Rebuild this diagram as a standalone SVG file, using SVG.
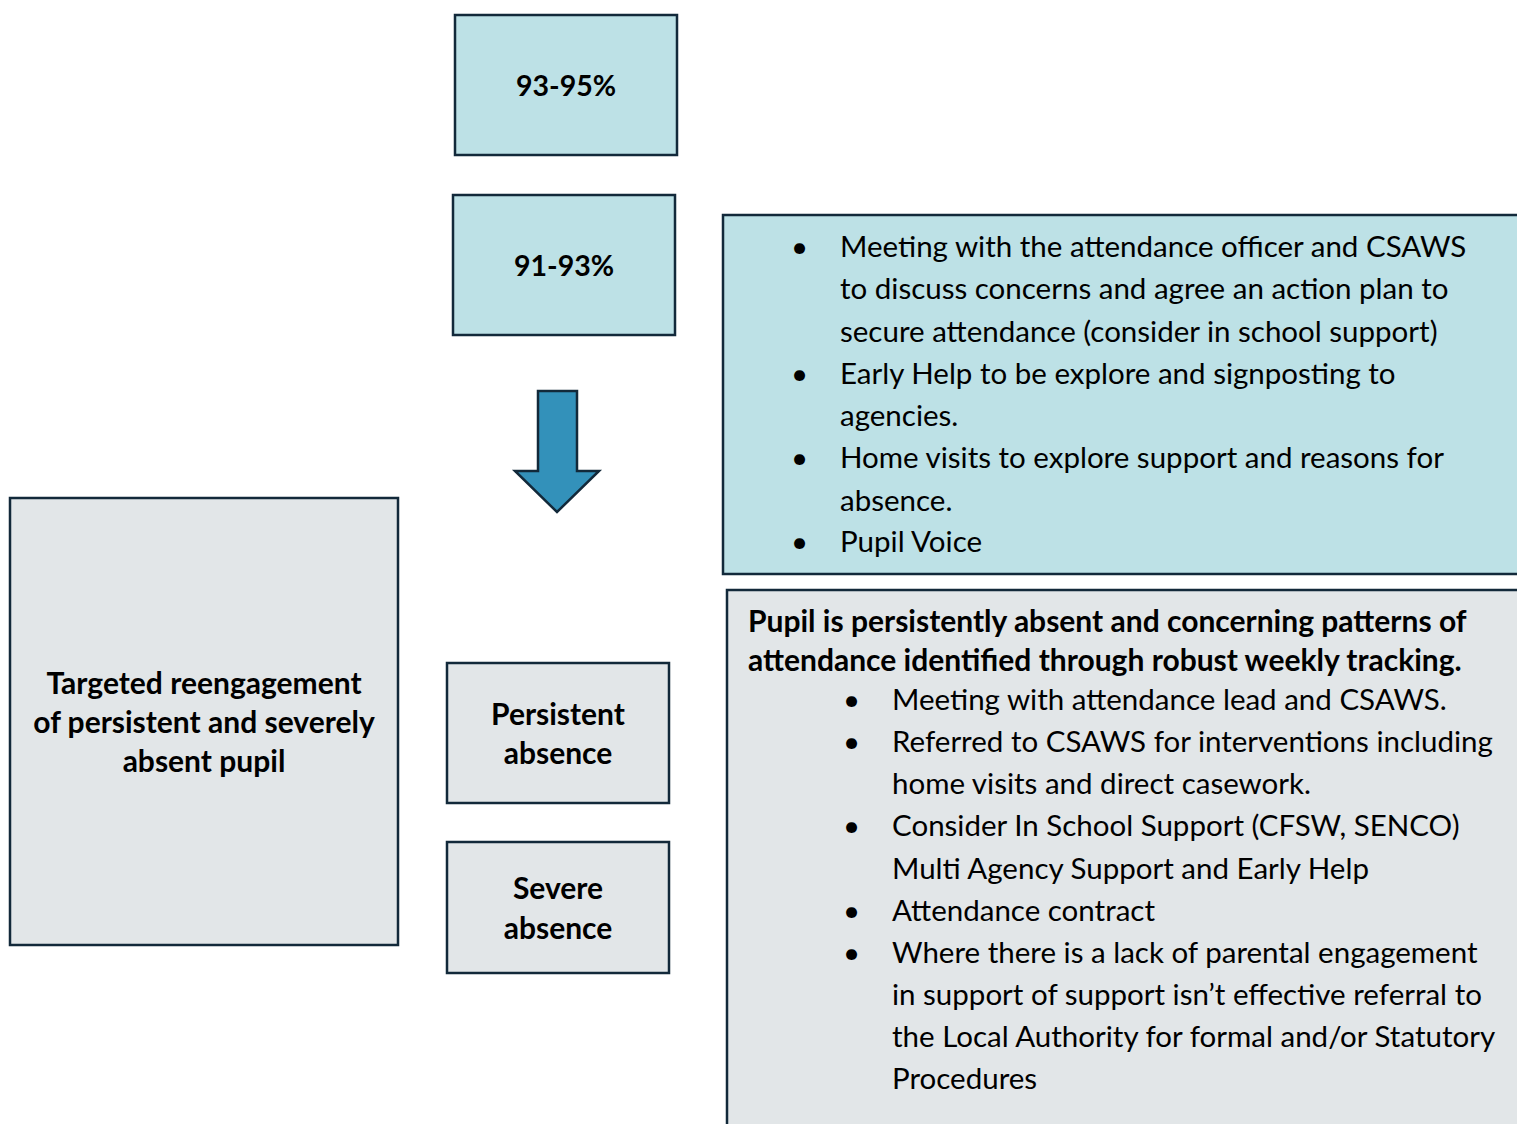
<svg xmlns="http://www.w3.org/2000/svg" width="1517" height="1124" viewBox="0 0 1517 1124">
<style>
.teal{fill:#BDE1E6;stroke:#12293A;stroke-width:2.5}
.grey{fill:#E2E6E8;stroke:#12293A;stroke-width:2.5}
text{font-family:Lato,"Open Sans","Liberation Sans",sans-serif;fill:#000}
.b{font-weight:bold;font-size:30px}
.p{font-weight:bold;font-size:28.5px}
.n{font-size:29.5px}
.c{text-anchor:middle}
</style>
<rect width="1517" height="1124" fill="#fff"/>
<g id="node-9395">
<rect class="teal" x="455" y="15" width="222" height="140"/>
<text class="p c" x="566" y="96">93-95%</text>
</g>
<g id="node-9193">
<rect class="teal" x="453" y="195" width="222" height="140"/>
<text class="p c" x="564" y="276">91-93%</text>
</g>
<g id="connectors">
<path d="M538,391 H577 V471 H599 L557,512 L515,471 H538 Z" fill="#3391BA" stroke="#12293A" stroke-width="2.5" stroke-linejoin="miter"/>
</g>
<g id="node-targeted">
<rect class="grey" x="10" y="498" width="388" height="447"/>
<text class="b c" x="204" y="694">Targeted reengagement</text>
<text class="b c" x="204" y="733">of persistent and severely</text>
<text class="b c" x="204" y="772">absent pupil</text>
</g>
<g id="node-persistent">
<rect class="grey" x="447" y="663" width="222" height="140"/>
<text class="b c" x="558" y="725">Persistent</text>
<text class="b c" x="558" y="764">absence</text>
</g>
<g id="node-severe">
<rect class="grey" x="447" y="842" width="222" height="131"/>
<text class="b c" x="558" y="899">Severe</text>
<text class="b c" x="558" y="939">absence</text>
</g>
<g id="node-actions-teal">
<rect class="teal" x="723" y="215" width="810" height="359"/>
<g class="n">
<text x="791" y="257">•</text>
<text x="840" y="257">Meeting with the attendance officer and CSAWS</text>
<text x="840" y="299">to discuss concerns and agree an action plan to</text>
<text x="840" y="342">secure attendance (consider in school support)</text>
<text x="791" y="384">•</text>
<text x="840" y="384">Early Help to be explore and signposting to</text>
<text x="840" y="426">agencies.</text>
<text x="791" y="468">•</text>
<text x="840" y="468">Home visits to explore support and reasons for</text>
<text x="840" y="511">absence.</text>
<text x="791" y="552">•</text>
<text x="840" y="552">Pupil Voice</text>
</g>
</g>
<g id="node-actions-grey">
<rect class="grey" x="727" y="590" width="810" height="560"/>
<text class="b" x="748" y="632">Pupil is persistently absent and concerning patterns of</text>
<text class="b" x="748" y="671">attendance identified through robust weekly tracking.</text>
<g class="n">
<text x="843" y="710">•</text>
<text x="892" y="710">Meeting with attendance lead and CSAWS.</text>
<text x="843" y="752">•</text>
<text x="892" y="752">Referred to CSAWS for interventions including</text>
<text x="892" y="794">home visits and direct casework.</text>
<text x="843" y="836">•</text>
<text x="892" y="836">Consider In School Support (CFSW, SENCO)</text>
<text x="892" y="879">Multi Agency Support and Early Help</text>
<text x="843" y="921">•</text>
<text x="892" y="921">Attendance contract</text>
<text x="843" y="963">•</text>
<text x="892" y="963">Where there is a lack of parental engagement</text>
<text x="892" y="1005">in support of support isn’t effective referral to</text>
<text x="892" y="1047">the Local Authority for formal and/or Statutory</text>
<text x="892" y="1089">Procedures</text>
</g>
</g>
</svg>
